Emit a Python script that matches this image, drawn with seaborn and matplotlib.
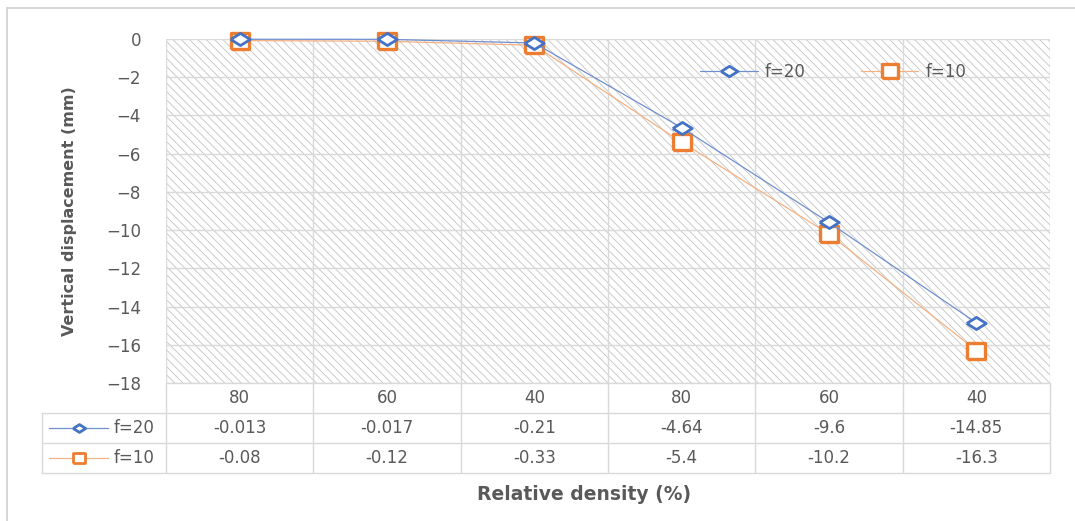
import matplotlib
matplotlib.use("Agg")
import matplotlib.pyplot as plt
from matplotlib.lines import Line2D
from matplotlib.transforms import blended_transform_factory
from matplotlib.patches import Rectangle
import numpy as np
import pandas as pd
import seaborn as sns

# ---- data ----
categories = ["80", "60", "40", "80", "60", "40"]
f20 = [-0.013, -0.017, -0.21, -4.64, -9.6, -14.85]
f10 = [-0.08, -0.12, -0.33, -5.4, -10.2, -16.3]
series_names = ["f=20", "f=10"]
f20_labels = ["-0.013", "-0.017", "-0.21", "-4.64", "-9.6", "-14.85"]
f10_labels = ["-0.08", "-0.12", "-0.33", "-5.4", "-10.2", "-16.3"]
yticks = list(range(0, -19, -2))

BLUE = "#4472C4"
BLUE_LINE = "#6f8fcf"
ORANGE = "#ED7D31"
ORANGE_LINE = "#f4b183"
GRID = "#d9d9d9"
TEXT = "#595959"
FS = 12

# wide diamond and square markers
DIAMOND = [(-1.6, 0), (0, 1), (1.6, 0), (0, -1), (-1.6, 0)]
SQUARE = [(-1.15, -1), (1.15, -1), (1.15, 1), (-1.15, 1), (-1.15, -1)]

sns.set_theme(style="white")
plt.rcParams["font.family"] = ["DejaVu Sans"]
plt.rcParams["hatch.linewidth"] = 0.6

W, H = 1075, 521
fig = plt.figure(figsize=(W / 100, H / 100), dpi=100)
fig.patch.set_facecolor("white")

# outer chart border: left and top edges
fig.add_artist(Line2D([7 / W, 7 / W], [0, 1 - 8 / H], transform=fig.transFigure,
                      color="#d0d0d0", lw=1.2))
fig.add_artist(Line2D([7 / W, 1.0], [1 - 8 / H, 1 - 8 / H], transform=fig.transFigure,
                      color="#d0d0d0", lw=1.2))

left, right = 166 / W, 1050 / W
top, bottom = 1 - 39 / H, 1 - 383 / H
ax = fig.add_axes([left, bottom, right - left, top - bottom])
AXW = right * W - left * W
AXH = (top - bottom) * H

x = np.arange(len(categories))
df = pd.DataFrame({"x": np.concatenate([x, x]),
                   "value": f20 + f10,
                   "series": [series_names[0]] * len(x) + [series_names[1]] * len(x)})

# hatched plot area background
ax.add_patch(Rectangle((0, 0), 1, 1, transform=ax.transAxes, facecolor="white",
                       edgecolor="#c4c4c4", hatch="\\\\\\\\", lw=0, zorder=0))

sns.lineplot(data=df[df.series == "f=10"], x="x", y="value", ax=ax, color=ORANGE_LINE, lw=0.9,
             marker=SQUARE, markersize=13, markerfacecolor="white", markeredgecolor=ORANGE,
             markeredgewidth=2.4, zorder=3, legend=False, clip_on=False)
sns.lineplot(data=df[df.series == "f=20"], x="x", y="value", ax=ax, color=BLUE_LINE, lw=0.9,
             marker=DIAMOND, markersize=14, markerfacecolor="white", markeredgecolor=BLUE,
             markeredgewidth=2.0, zorder=4, legend=False, clip_on=False)

ax.set_xlim(-0.5, len(categories) - 0.5)
ax.set_ylim(-18, 0)
ax.set_yticks(yticks)
ax.set_yticklabels([str(t).replace("-", "\u2212") for t in yticks], fontsize=FS, color=TEXT)
ax.tick_params(axis="y", length=0, pad=18)
ax.set_xticks([])

# gridlines
for yv in yticks:
    ax.axhline(yv, color=GRID, lw=1, zorder=1)
for xv in np.arange(-0.5, len(categories), 1.0):
    ax.axvline(xv, color=GRID, lw=1, zorder=1)
for s in ax.spines.values():
    s.set_visible(False)

ax.set_xlabel("")
ax.set_ylabel("Vertical displacement (mm)", fontsize=11.5, fontweight="bold", color=TEXT)
ax.yaxis.set_label_coords((77 - 166) / AXW, 0.5)

# legend inside plot
handles = [
    Line2D([], [], color=BLUE_LINE, lw=0.9, marker=DIAMOND, markersize=12, markerfacecolor="white",
           markeredgecolor=BLUE, markeredgewidth=2.0),
    Line2D([], [], color=ORANGE_LINE, lw=0.9, marker=SQUARE, markersize=11, markerfacecolor="white",
           markeredgecolor=ORANGE, markeredgewidth=2.4),
]
ax.legend(handles, series_names, loc="center", bbox_to_anchor=(0.755, 0.904), ncol=2,
          frameon=False, fontsize=FS, labelcolor=TEXT, handlelength=3.45, columnspacing=3.3,
          handletextpad=0.45)

# data table beneath the axes
row_h = 30 / AXH
tr = blended_transform_factory(ax.transData, ax.transAxes)
tra = ax.transAxes
table_left = (42 - 166) / AXW
n = len(categories)
ax.plot([-0.5, n - 0.5], [0, 0], transform=tr, color=GRID, lw=1, clip_on=False)
for k in range(1, 4):
    yv = -k * row_h
    ax.plot([table_left, 1], [yv, yv], transform=tra, color=GRID, lw=1, clip_on=False)
for xv in np.arange(-0.5, n, 1.0):
    ax.plot([xv, xv], [0, -3 * row_h], transform=tr, color=GRID, lw=1, clip_on=False)
ax.plot([table_left, table_left], [-row_h, -3 * row_h], transform=tra, color=GRID, lw=1,
        clip_on=False)

for i in range(n):
    ax.text(x[i], -0.5 * row_h, categories[i], transform=tr, ha="center", va="center",
            fontsize=FS, color=TEXT)
    ax.text(x[i], -1.5 * row_h, f20_labels[i], transform=tr, ha="center", va="center",
            fontsize=FS, color=TEXT)
    ax.text(x[i], -2.5 * row_h, f10_labels[i], transform=tr, ha="center", va="center",
            fontsize=FS, color=TEXT)

# legend keys in the table
key_x0, key_x1, key_xm = (49 - 166) / AXW, (108 - 166) / AXW, (79 - 166) / AXW
text_x = (114 - 166) / AXW
key_sizes = [9, 9]
for r, (h, name) in enumerate(zip(handles, series_names)):
    yv = -(1.5 + r) * row_h
    ax.plot([key_x0, key_x1], [yv, yv], transform=tra, color=h.get_color(), lw=0.9, clip_on=False)
    ax.plot([key_xm], [yv], transform=tra, marker=h.get_marker(), markersize=key_sizes[r],
            markerfacecolor="white", markeredgecolor=h.get_markeredgecolor(),
            markeredgewidth=2.0, clip_on=False, lw=0)
    ax.text(text_x, yv, name, transform=tra, ha="left", va="center", fontsize=FS, color=TEXT)

fig.text(584 / W, 1 - 494 / H, "Relative density (%)", ha="center", va="center",
         fontsize=13.5, fontweight="bold", color=TEXT)

fig.savefig("out.png", dpi=100, facecolor="white")
